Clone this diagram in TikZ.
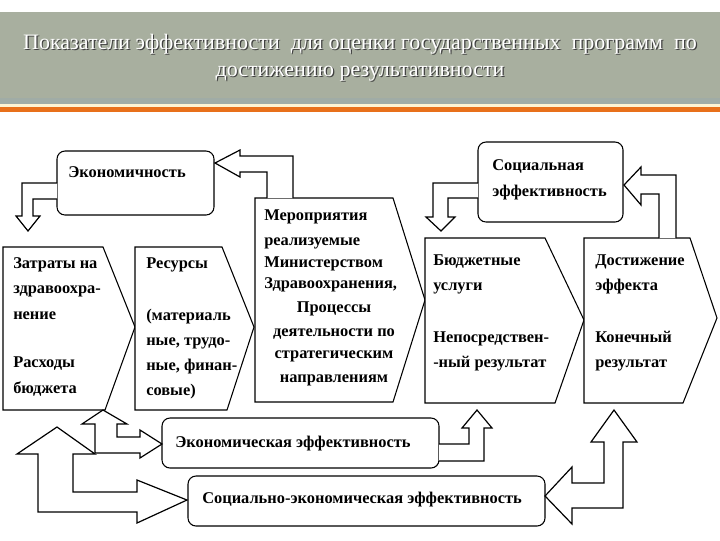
\documentclass[tikz,border=0pt]{standalone}
\usepackage{fontspec}
\setmainfont{Liberation Serif}
\definecolor{bandc}{HTML}{A8AF9F}
\definecolor{bandlow}{HTML}{A0ACA6}
\definecolor{creamc}{HTML}{FDF3D3}
\definecolor{orangec}{HTML}{E8701A}
\begin{document}
\begin{tikzpicture}[x=0.75pt,y=-0.75pt,
  tx/.style={anchor=base west,inner sep=0pt,font=\bfseries\fontsize{12.3}{14}\selectfont},
  txc/.style={anchor=base,inner sep=0pt,font=\bfseries\fontsize{12.3}{14}\selectfont},
  ttl/.style={anchor=base,inner sep=0pt,font=\fontsize{16.5}{18}\selectfont},
  shp/.style={draw=black,fill=white,line width=0.8pt,line join=miter},
  rbox/.style={draw=black,fill=white,line width=0.8pt,rounded corners=6pt},
  arr/.style={draw=black,fill=white,line width=0.9pt,line join=miter}]
\useasboundingbox (0,0) rectangle (720,540);
% title band
\fill[bandc] (0,12) rectangle (720,98);
\fill[bandlow] (0,98) rectangle (720,104);
\fill[creamc] (0,104) rectangle (720,107);
\fill[orangec] (0,107) rectangle (720,112);
\node[ttl,text=black!75] (t1s) at (361.2,50.2) {Показатели эффективности\ \ для оценки государственных\ \ программ\ \ по};
\node[ttl,text=white] (t1) at (360,49) {Показатели эффективности\ \ для оценки государственных\ \ программ\ \ по};
\node[ttl,text=black!75] (t2s) at (361.2,77.2) {достижению результативности};
\node[ttl,text=white] (t2) at (360,76) {достижению результативности};

% rounded boxes
\draw[rbox] (57,151) rectangle (214,215);
\node[tx] (econ) at (68,177) {Экономичность};
\draw[rbox] (478,142) rectangle (623,222);
\node[tx] (soc1) at (492,170) {Социальная};
\node[tx] (soc2) at (492,196) {эффективность};
\draw[rbox] (162,418) rectangle (439,468);
\node[tx] (ee) at (175,447) {Экономическая эффективность};
\draw[rbox] (188,476) rectangle (545,526);
\node[tx] (see) at (202,503) {Социально-экономическая эффективность};

% chevrons
\draw[shp] (3,247) -- (103,247) -- (135,327) -- (105,410) -- (3,410) -- cycle;
\draw[shp] (135,247) -- (222,247) -- (254,327) -- (227,410) -- (135,410) -- cycle;
\draw[shp] (255,198) -- (393,198) -- (425,300) -- (393,402) -- (255,402) -- cycle;
\draw[shp] (425,238) -- (545,238) -- (584,320) -- (555,403) -- (425,403) -- cycle;
\draw[shp] (584,238) -- (690,238) -- (717,318) -- (683,403) -- (584,403) -- cycle;

% texts in chevrons
\node[tx] (z1) at (13,268) {Затраты на};
\node[tx] (z2) at (13,293) {здравоохра-};
\node[tx] (z3) at (13,319) {нение};
\node[tx] (z4) at (13,367) {Расходы};
\node[tx] (z5) at (13,393) {бюджета};

\node[tx] (r1) at (146,268) {Ресурсы};
\node[tx] (r2) at (146,320) {(материаль};
\node[tx] (r3) at (146,345) {ные, трудо-};
\node[tx] (r4) at (146,370) {ные, финан-};
\node[tx] (r5) at (146,395) {совые)};

\node[tx] (m1) at (264,220) {Мероприятия};
\node[tx] (m2) at (264,245) {реализуемые};
\node[tx] (m3) at (264,267) {Министерством};
\node[tx] (m4) at (264,288) {Здравоохранения,};
\node[txc] (m5) at (334,312) {Процессы};
\node[txc] (m6) at (334,336) {деятельности по};
\node[txc] (m7) at (334,358) {стратегическим};
\node[txc] (m8) at (334,382) {направлениям};

\node[tx] (b1) at (433,265) {Бюджетные};
\node[tx] (b2) at (433,290) {услуги};
\node[tx] (b3) at (433,342) {Непосредствен-};
\node[tx] (b4) at (433,367) {-ный результат};

\node[tx] (d1) at (595,265) {Достижение};
\node[tx] (d2) at (595,290) {эффекта};
\node[tx] (d3) at (595,342) {Конечный};
\node[tx] (d4) at (595,367) {результат};

% block arrows
% Экономичность -> Затраты
\draw[arr] (57,183) -- (22,183) -- (22,216) -- (16,216) -- (28,231) -- (40,216) -- (33,216) -- (33,199) -- (57,199);
% Мероприятия -> Экономичность
\draw[arr] (293,198) -- (293,156) -- (240,156) -- (240,150) -- (215,163) -- (240,177) -- (240,172) -- (267,172) -- (267,198);
% Социальная -> Бюджетные
\draw[arr] (478,183) -- (433,183) -- (433,217) -- (426,217) -- (441,231) -- (455,217) -- (448,217) -- (448,198) -- (478,198);
% Достижение -> Социальная
\draw[arr] (676,238) -- (676,175) -- (641,175) -- (641,167) -- (624,185) -- (641,205) -- (641,194) -- (659,194) -- (659,238);
% Экономическая -> Бюджетные
\draw[arr] (439,444) -- (469,444) -- (469,428) -- (462,428) -- (477,410) -- (492,428) -- (484,428) -- (484,461) -- (439,461);
% Социально-экономическая <-> Достижение
\draw[arr] (545,496) -- (572,467) -- (572,483) -- (604,483) -- (604,442) -- (591,442) -- (614,410) -- (637,442) -- (623,442) -- (623,508) -- (572,508) -- (572,524) -- cycle;
% left big arrow
\draw[arr] (57,427) -- (95,454) -- (73,454) -- (73,492) -- (137,492) -- (137,480) -- (187,500) -- (137,523) -- (137,512) -- (38,512) -- (38,454) -- (17,454) -- cycle;
% left small arrow
\draw[arr] (103,410) -- (127,424) -- (117,424) -- (117,437) -- (140,437) -- (140,430) -- (162,444) -- (140,458) -- (140,453) -- (95,453) -- (95,424) -- (82,424) -- cycle;
\end{tikzpicture}
\end{document}
